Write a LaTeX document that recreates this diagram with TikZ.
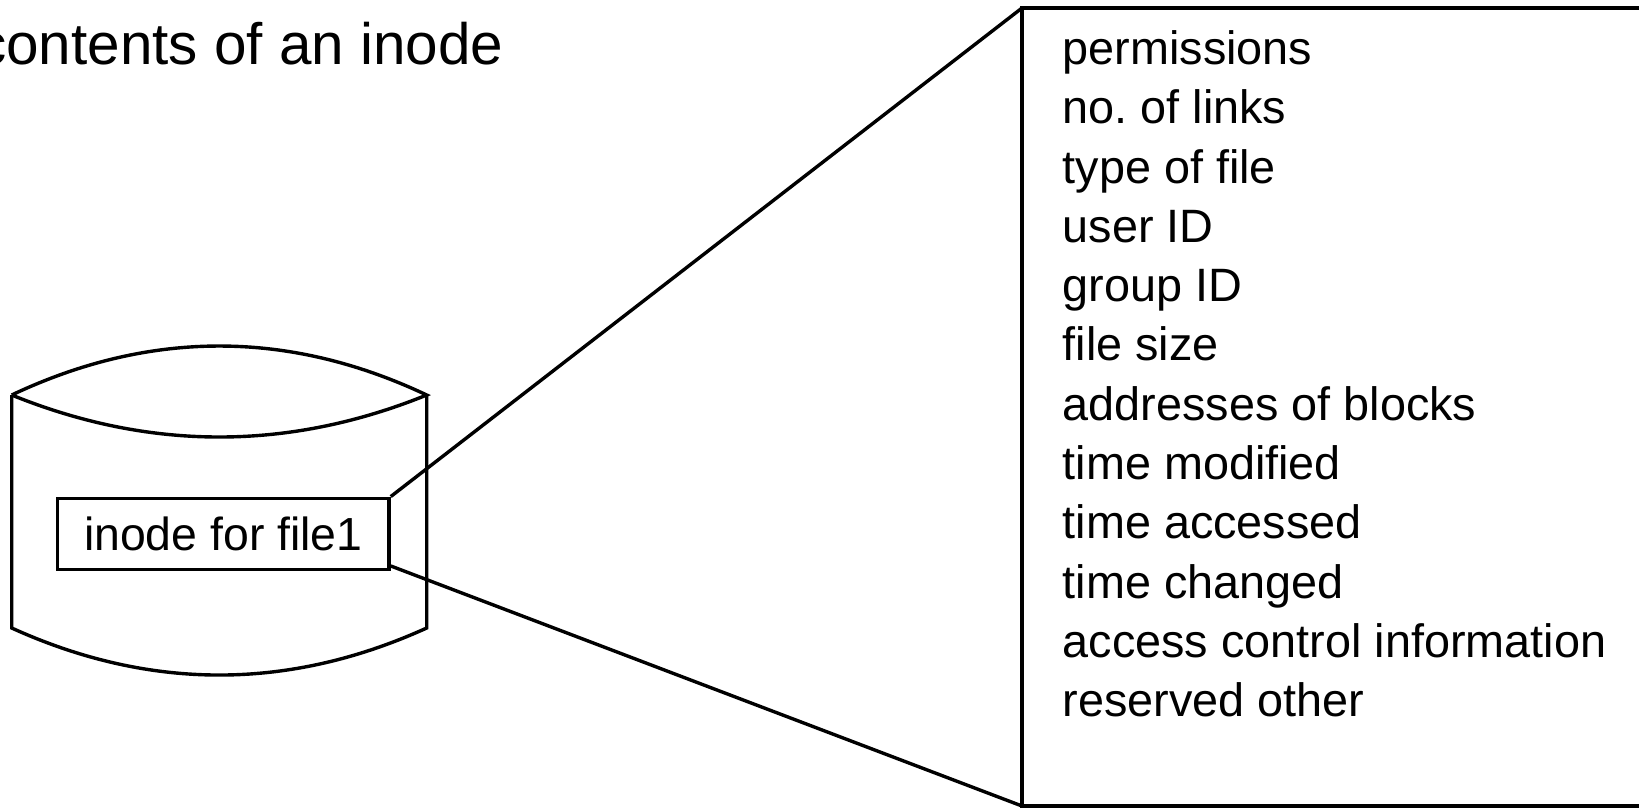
\documentclass[tikz,border=0pt]{standalone}
\usepackage{fontspec}
\setmainfont{Liberation Sans}
\frenchspacing
\begin{document}
\begin{tikzpicture}[x=1pt,y=-1pt,
  stroke/.style={line width=3.4pt, line join=miter},
  titletext/.style={anchor=base west, inner sep=0pt, font=\fontsize{58.4}{70}\selectfont},
  itemtext/.style={anchor=base west, inner sep=0pt, font=\fontsize{46.8}{56}\selectfont},
  inodebox/.style={draw, line width=3.4pt, inner sep=0pt, minimum width=331.5pt,
    minimum height=71.5pt, font=\fontsize{46.4}{56}\selectfont}]
\clip (0,0) rectangle (1639,807);
\fill[white] (0,0) rectangle (1639,807);

% heading
\node[titletext] (title) at (-23,64) {contents of an inode};

% disk drawn as a cylinder with a lens-shaped top
\draw[stroke] (11.7,395) .. controls (149.9,329.7) and (288.5,329.7) .. (426.7,395)
                         .. controls (288.5,451) and (149.9,451) .. (11.7,395);
\draw[stroke] (11.7,395) -- (11.7,628)
   .. controls (149.9,690.7) and (288.5,690.7) .. (426.7,628) -- (426.7,395);

% the inode stored on the disk
\node[inodebox] (inode) at (223.3,534) {inode for file1};

% enlarged panel listing the inode fields
\coordinate (panelNW) at (1022,8);
\coordinate (panelSW) at (1022,806);
\draw[stroke] (1700,8) -- (panelNW) -- (panelSW) -- (1700,806);

\foreach \txt [count=\i] in {permissions, no. of links, type of file, user ID, group ID,
    file size, addresses of blocks, time modified, time accessed, time changed,
    access control information, reserved other}
  \node[itemtext] (item\i) at (1062.5,{64.4+59.3*(\i-1)}) {\txt};

% zoom lines from the inode to the panel
\draw[stroke] (inode.north east) -- (panelNW);
\draw[stroke] ([yshift=5.5pt]inode.south east) -- (panelSW);
\end{tikzpicture}
\end{document}
